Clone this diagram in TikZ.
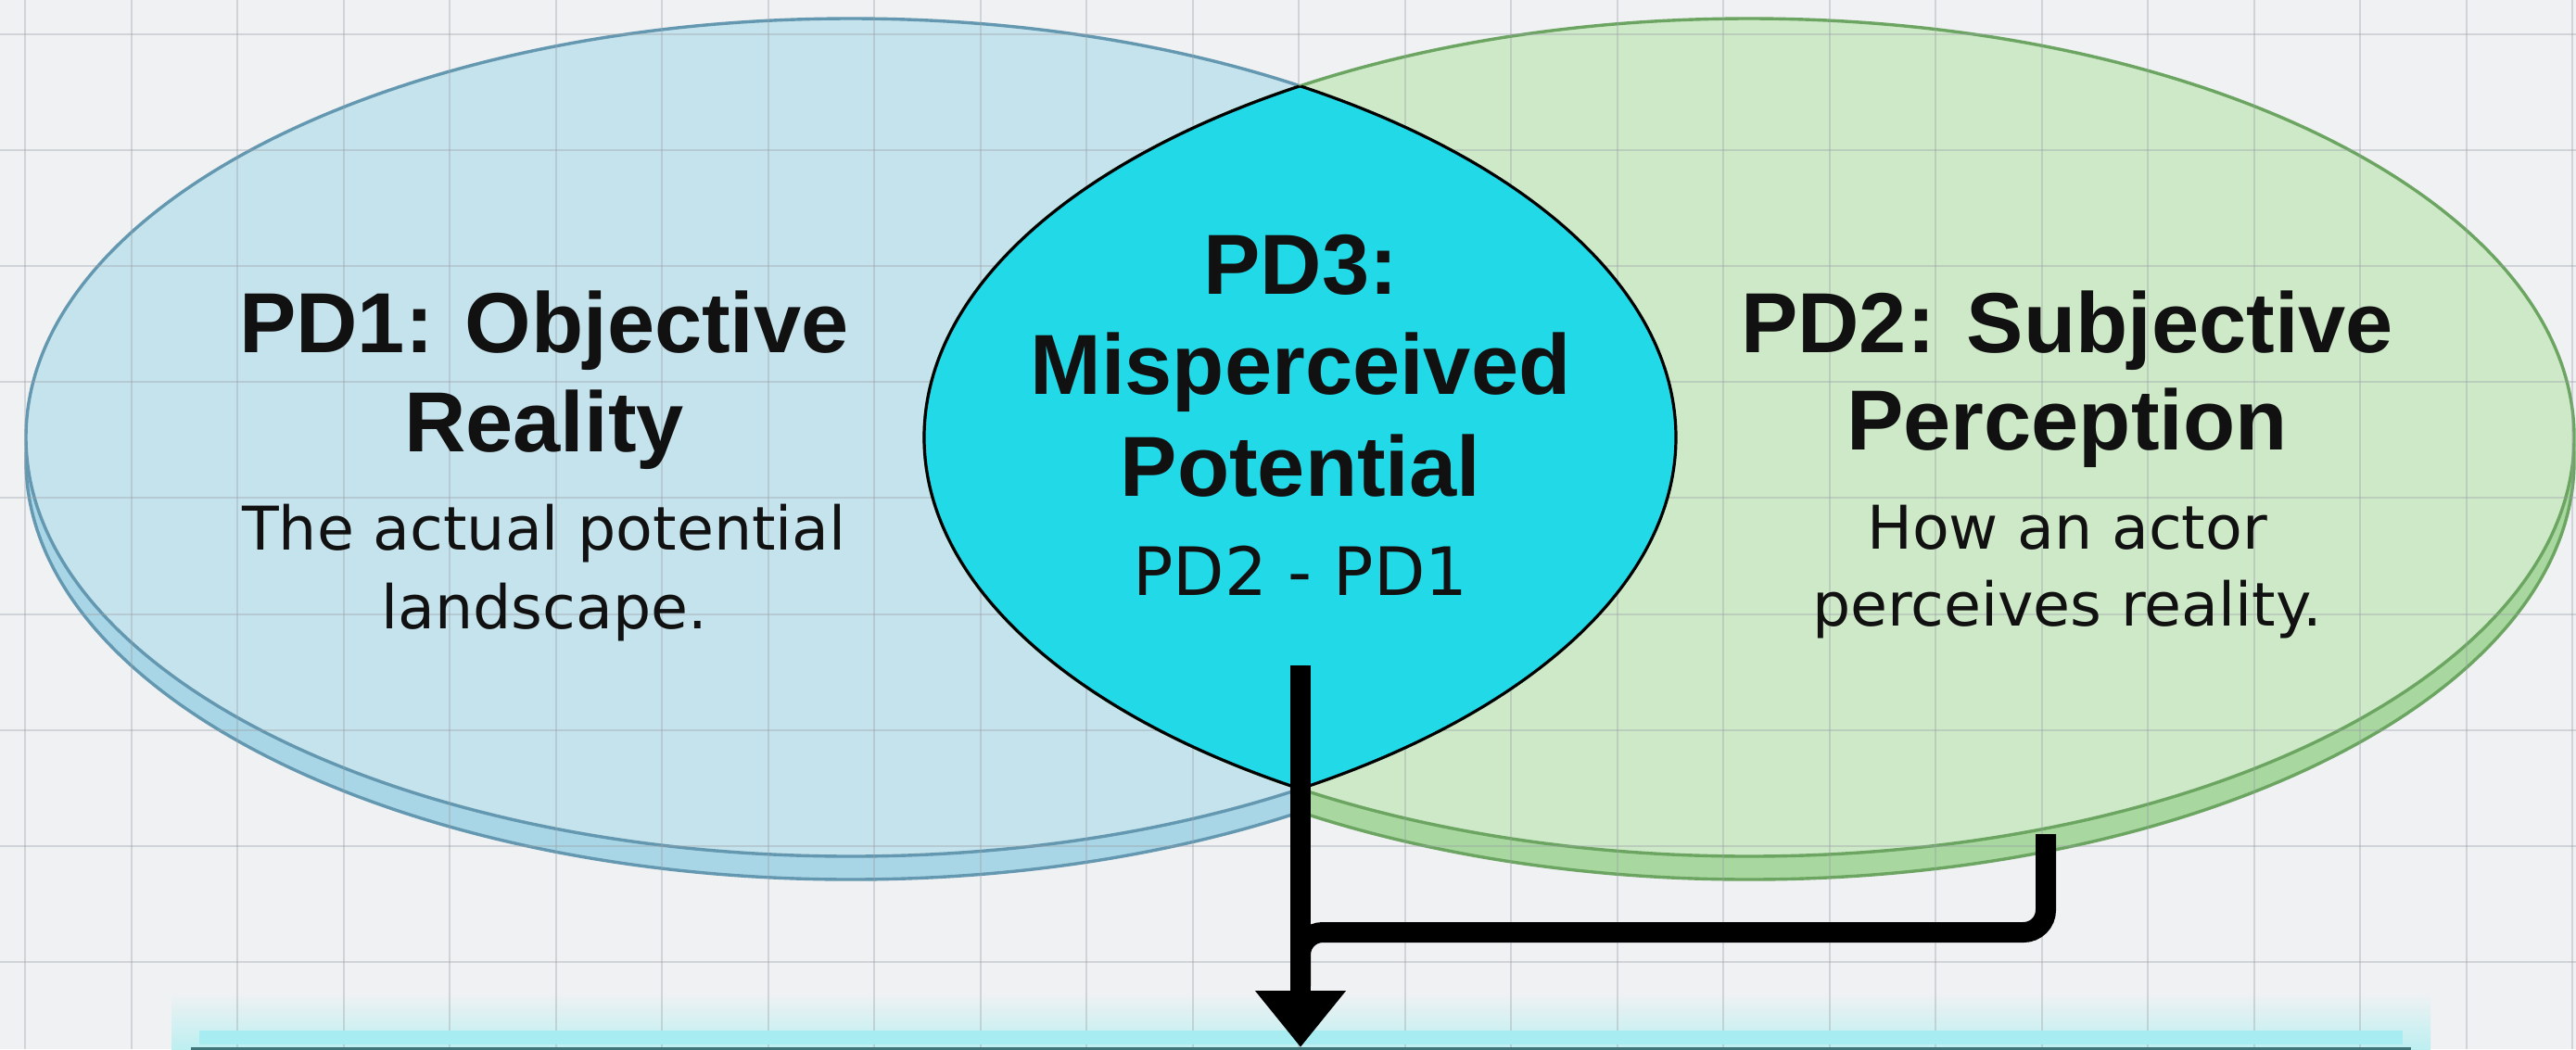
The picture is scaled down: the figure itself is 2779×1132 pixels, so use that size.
\documentclass[tikz,border=0pt]{standalone}
\usepackage{fontspec}
\newfontfamily\headfont{Liberation Sans}
\newfontfamily\bodyfont{DejaVu Sans}
\usetikzlibrary{arrows.meta}
\definecolor{bg}{HTML}{EFF1F3}
\definecolor{gridc}{HTML}{9AA0A6}
\definecolor{bluefill}{HTML}{C5E3EC}
\definecolor{blueband}{HTML}{A9D6E6}
\definecolor{blueline}{HTML}{6398B0}
\definecolor{greenfill}{HTML}{CDE9C7}
\definecolor{greenband}{HTML}{A8D89F}
\definecolor{greenline}{HTML}{6BA561}
\definecolor{lenscyan}{HTML}{22D9E7}
\definecolor{glowc}{HTML}{BDEFF1}
\definecolor{glowband}{HTML}{A6ECF0}
\definecolor{boxline}{HTML}{3F7479}
\definecolor{boxfill}{HTML}{8FE6EC}
\definecolor{ink}{HTML}{111111}
\tikzset{
  gridline/.style={draw=gridc, draw opacity=0.36, line width=1pt},
  outl/.style={line width=1.7pt},
  head/.style={font=\headfont\bfseries\fontsize{46}{50}\selectfont, inner sep=0pt, text=ink, anchor=base},
  body/.style={font=\bodyfont\fontsize{32.5}{36}\selectfont, inner sep=0pt, text=ink, anchor=base},
  conn/.style={draw=black, line width=11pt},
}
\begin{document}
\begin{tikzpicture}[x=0.5pt,y=-0.5pt]
\useasboundingbox (0,0) rectangle (2779,1132);
\clip (0,0) rectangle (2779,1132);
\fill[bg] (0,0) rectangle (2779,1132);
% glow above the result box
\shade[top color=bg, bottom color=glowc] (185,1072) rectangle (2622,1132);
% shadow (thickness) ellipses, each kept on its own side
\begin{scope}
  \clip (0,0) rectangle (1403,1132);
  \filldraw[fill=blueband, draw=blueline, outl] (918,497) ellipse [x radius=890, y radius=452];
\end{scope}
\begin{scope}
  \clip (1403,0) rectangle (2779,1132);
  \filldraw[fill=greenband, draw=greenline, outl] (1887,497) ellipse [x radius=890, y radius=452];
\end{scope}
% main ellipses
\filldraw[fill=bluefill, draw=blueline, outl] (918,472) ellipse [x radius=890, y radius=452];
\filldraw[fill=greenfill, draw=greenline, outl] (1887,472) ellipse [x radius=890, y radius=452];
% grid
\foreach \i in {0,...,24} \draw[gridline] ({27+114.5*\i},0) -- ({27+114.5*\i},1132);
\foreach \j in {0,...,8} \draw[gridline] (0,{37+125.1*\j}) -- (2779,{37+125.1*\j});
% lens (intersection)
\begin{scope}
  \clip (918,472) ellipse [x radius=890, y radius=452];
  \fill[lenscyan] (1887,472) ellipse [x radius=890, y radius=452];
  \draw[black, line width=1.6pt] (1887,472) ellipse [x radius=890, y radius=452];
\end{scope}
\begin{scope}
  \clip (1887,472) ellipse [x radius=890, y radius=452];
  \draw[black, line width=1.6pt] (918,472) ellipse [x radius=890, y radius=452];
\end{scope}
% result box (cut off at bottom)
\fill[glowband] (215,1112) rectangle (2592,1127);
\node[draw=boxline, line width=1.5pt, fill=boxfill, minimum width=1196pt, minimum height=40pt, inner sep=0pt, anchor=north] (result) at (1403,1130) {};
% texts
\node[head] (pd1a) at (587,380) {PD1: Objective};
\node[head] (pd1b) at (587,487) {Reality};
\node[body] (pd1c) at (587,593) {The actual potential};
\node[body] (pd1d) at (587,678) {landscape.};
\node[head] (pd3a) at (1403,317) {PD3:};
\node[head] (pd3b) at (1403,425) {Misperceived};
\node[head] (pd3c) at (1403,535) {Potential};
\node[body, font=\bodyfont\fontsize{36}{40}\selectfont] (pd3d) at (1403,642) {PD2 - PD1};
\node[head] (pd2a) at (2230,380) {PD2: Subjective};
\node[head] (pd2b) at (2230,485) {Perception};
\node[body] (pd2c) at (2230,592) {How an actor};
\node[body] (pd2d) at (2230,675) {perceives reality.};
% connectors
\coordinate (pd3foot) at (1403,718);
\coordinate (pd2foot) at (2207,900);
\coordinate (rail) at (1403,1006);
\coordinate (merge) at (1403,1064);
\draw[conn, rounded corners=12pt] (pd2foot) -- (pd2foot |- rail) -- (rail) -- (merge);
\draw[conn, -{Triangle[width=47pt,length=30.5pt]}] (pd3foot) -- (result.north);
\end{tikzpicture}
\end{document}
